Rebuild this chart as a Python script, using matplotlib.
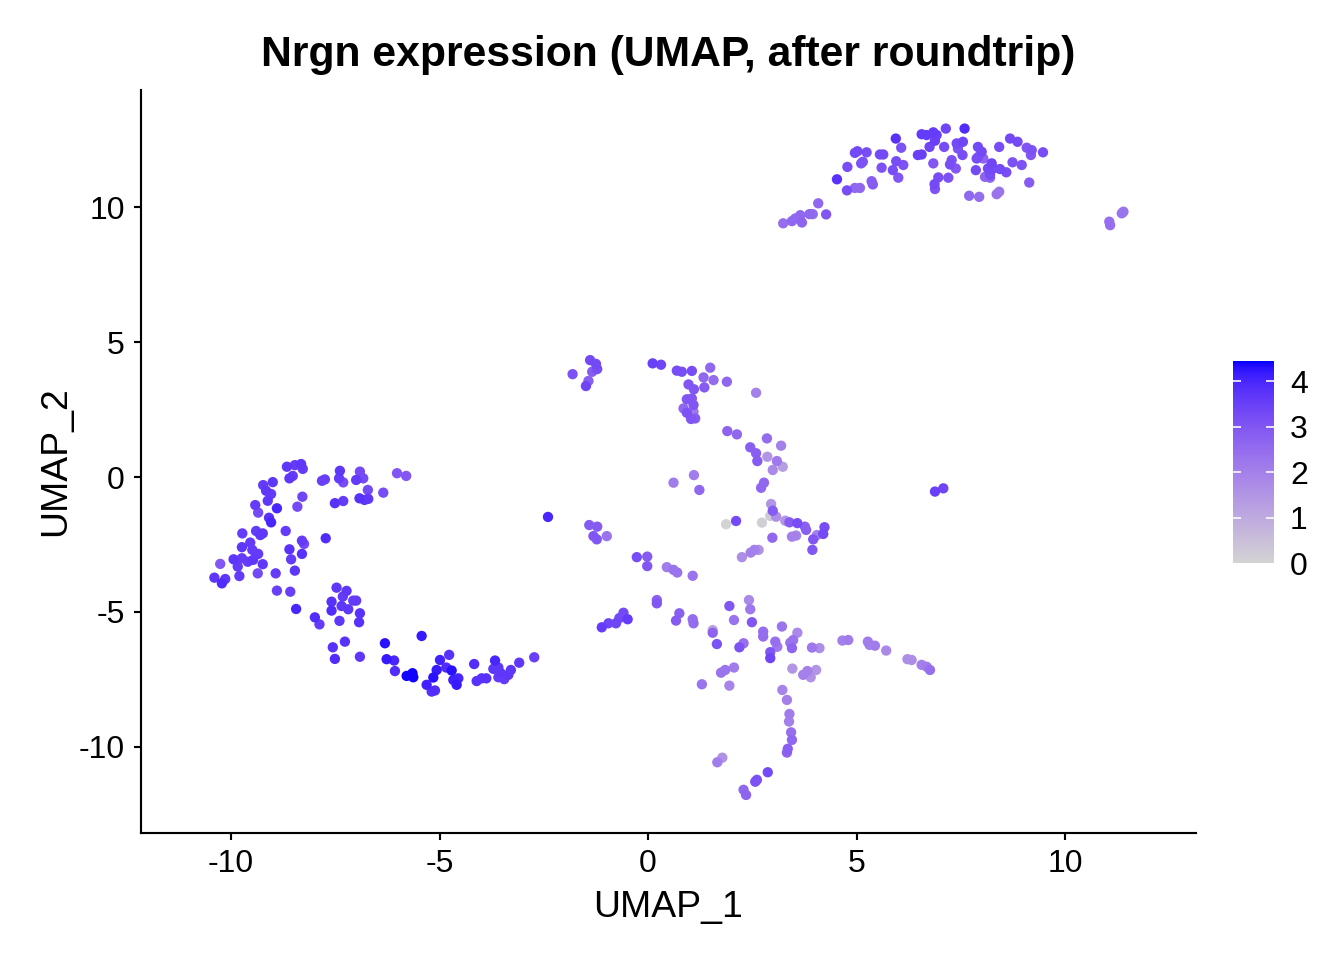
import numpy as np
import matplotlib.pyplot as plt
from matplotlib.colors import ListedColormap

plt.rcParams['font.family'] = ['Liberation Sans', 'DejaVu Sans']
plt.rcParams['axes.unicode_minus'] = False

# left arc (upper part + lower tail)
left_x = [-8.66, -8.47, -8.32, -8.28, -8.60, -8.52, -9.23, -9.00, -9.16, -9.04,
          -9.12, -9.42, -9.35, -8.90, -8.29, -8.41, -9.09, -9.04, -9.73, -9.40,
          -9.30, -9.24, -8.69, -9.54, -9.74, -9.49, -9.35, -9.94, -9.74, -9.60,
          -9.47, -9.84, -9.24, -10.26, -10.40, -10.22, -10.14, -9.80, -9.36, -8.93,
          -8.47, -8.30, -8.25, -8.60, -8.30, -8.56, -7.73, -8.90, -8.58, -8.44,
          -7.99, -7.88, -7.39, -7.41, -7.31, -7.82, -7.75, -6.91, -7.00, -6.83,
          -6.72, -7.51, -7.31, -6.92, -6.80, -6.71, -6.35, -6.02, -5.80,
          -7.47, -7.23, -7.32, -7.59, -7.35, -7.19, -7.07, -7.00, -7.59, -7.40,
          -6.91, -6.93, -7.56, -7.27, -7.51, -6.91,
          -6.31, -5.43, -6.27, -6.09, -6.07, -5.79, -5.65, -5.63, -5.31, -5.19,
          -5.11, -5.15, -5.07, -4.99, -4.84, -4.71, -4.77, -4.67, -4.55, -4.59,
          -4.17, -4.11, -3.99, -3.88, -3.67, -3.71, -3.59, -3.53, -3.59, -3.45,
          -3.35, -3.29, -3.09, -2.73, -2.40]
left_y = [0.38, 0.44, 0.48, 0.30, -0.05, 0.04, -0.30, -0.19, -0.51, -0.63,
          -0.88, -1.04, -1.32, -1.16, -0.73, -1.10, -1.51, -1.68, -2.09, -2.00,
          -2.15, -2.09, -2.00, -2.43, -2.60, -2.70, -2.85, -3.05, -3.01, -3.14,
          -3.07, -3.32, -3.23, -3.22, -3.73, -3.94, -3.78, -3.67, -3.57, -3.57,
          -3.47, -2.36, -2.48, -2.68, -2.85, -3.05, -2.27, -4.21, -4.25, -4.89,
          -5.20, -5.46, 0.23, -0.05, -0.20, -0.14, -0.09, 0.20, -0.11, -0.05,
          -0.48, -0.97, -0.89, -0.79, -0.85, -0.81, -0.58, 0.14, 0.04,
          -4.10, -4.22, -4.43, -4.62, -4.78, -4.90, -4.58, -4.58, -4.95, -5.33,
          -5.05, -5.38, -6.31, -6.10, -6.74, -6.66,
          -6.16, -5.89, -6.75, -6.80, -7.19, -7.37, -7.27, -7.42, -7.70, -7.95,
          -7.91, -7.43, -7.15, -6.78, -7.06, -7.17, -6.59, -7.52, -7.46, -7.70,
          -6.93, -7.56, -7.46, -7.46, -6.80, -7.11, -7.06, -7.27, -7.42, -7.49,
          -7.33, -7.15, -6.88, -6.68, -1.48]
left_expr = [3.7, 3.6, 3.7, 3.6, 3.7, 3.6, 3.6, 3.7, 3.7, 3.6,
             3.7, 3.6, 3.3, 4.0, 3.4, 3.3, 3.8, 4.0, 3.6, 3.6,
             3.7, 3.7, 3.6, 3.6, 3.7, 3.6, 3.6, 3.7, 3.6, 3.6,
             3.7, 3.6, 3.7, 3.0, 3.7, 3.9, 3.7, 3.6, 3.3, 3.6,
             3.7, 3.6, 3.3, 3.8, 3.8, 3.6, 3.9, 3.5, 3.5, 4.0,
             3.9, 3.6, 3.7, 3.6, 3.2, 3.5, 3.5, 3.3, 3.6, 3.3,
             3.3, 3.8, 3.6, 3.8, 3.7, 3.7, 3.2, 3.0, 3.0,
             3.7, 3.7, 3.6, 3.8, 3.7, 3.7, 3.6, 3.6, 3.9, 3.7,
             3.8, 3.8, 3.8, 3.8, 3.9, 3.7,
             4.3, 4.2, 4.2, 4.0, 3.9, 4.4, 4.4, 4.4, 4.1, 3.8,
             3.9, 4.3, 4.2, 4.1, 3.9, 4.3, 3.8, 4.1, 4.0, 4.2,
             3.9, 3.8, 3.8, 3.8, 4.0, 3.7, 3.7, 3.7, 3.6, 3.6,
             3.7, 3.7, 3.7, 3.5, 4.0]

# top right cluster
top_x = [3.24, 3.45, 3.53, 3.65, 3.69, 3.87, 3.95, 4.08, 4.27, 4.53,
         4.77, 4.78, 4.96, 5.02, 5.24, 5.15, 5.11, 4.96, 5.08, 5.36,
         5.39, 5.56, 5.64, 5.60, 5.87, 5.94, 6.07, 5.95, 6.12, 6.00,
         6.47, 6.56, 6.56, 6.68, 6.84, 6.92, 6.88, 6.75, 7.14, 7.10,
         6.84, 7.28, 7.24, 7.38, 7.20, 6.96, 6.87, 6.88, 7.59, 7.40,
         7.55, 7.43, 7.54, 7.91, 8.00, 7.92, 7.88, 8.04, 7.86, 8.15,
         8.24, 8.28, 8.20, 8.08, 8.20, 8.44, 8.59, 8.42, 7.70, 7.94,
         8.36, 8.42, 8.68, 8.86, 8.74, 8.96, 9.08, 9.20, 9.18, 9.47,
         9.14, 11.06, 11.08, 11.36, 11.40]
top_y = [9.40, 9.48, 9.58, 9.70, 9.43, 9.74, 9.74, 10.14, 9.73, 11.03,
         10.62, 11.49, 12.01, 12.07, 12.03, 11.68, 11.62, 10.71, 10.71, 10.96,
         10.84, 11.95, 11.95, 11.46, 11.37, 12.54, 12.20, 11.70, 11.56, 11.09,
         11.93, 11.95, 12.70, 12.67, 12.77, 12.67, 12.46, 12.23, 12.91, 12.23,
         11.62, 11.74, 11.58, 11.43, 11.09, 11.10, 10.85, 10.67, 12.91, 12.36,
         12.42, 12.17, 11.93, 12.23, 12.05, 11.86, 11.80, 11.80, 11.37, 11.43,
         11.62, 11.43, 11.19, 11.12, 11.09, 11.41, 11.29, 12.23, 10.42, 10.38,
         10.48, 10.57, 12.54, 12.42, 11.66, 11.56, 12.20, 12.11, 11.93, 12.03,
         10.91, 9.46, 9.33, 9.77, 9.83]
top_expr = [2.4, 2.6, 2.5, 2.6, 2.7, 2.6, 2.5, 2.6, 3.0, 3.8,
            3.2, 3.2, 3.3, 3.3, 3.2, 3.1, 3.1, 2.6, 2.6, 2.8,
            2.9, 3.3, 3.3, 3.1, 3.2, 3.8, 3.1, 3.2, 3.1, 3.0,
            3.5, 3.5, 3.6, 3.6, 3.6, 3.5, 3.5, 3.4, 3.4, 3.2,
            3.0, 3.1, 3.2, 3.0, 3.1, 3.2, 3.3, 3.1, 3.9, 3.3,
            3.4, 3.1, 3.2, 3.3, 3.3, 3.1, 3.2, 2.7, 3.3, 3.3,
            3.4, 3.3, 3.2, 2.7, 2.7, 3.3, 3.2, 3.2, 2.6, 2.5,
            2.3, 2.3, 3.3, 3.3, 3.1, 3.1, 3.0, 3.1, 3.0, 3.2,
            2.9, 2.4, 2.4, 2.3, 2.3]

# central / lower cluster
mid_x = [-1.81, -1.39, -1.25, -1.22, -1.34, -1.43, -1.49, 0.11, 0.31, 0.69,
         0.81, 1.05, 1.49, 1.33, 1.57, 1.35, 1.89, 0.97, 1.10, 0.93,
         1.05, 1.09, 0.85, 0.93, 1.09, 1.03, 1.13, 2.59, 1.90, 2.13,
         2.85, 2.45, 2.59, 2.62, 2.86, 3.19, 3.09, 2.99, 3.23, 0.61,
         1.10, 1.23, 2.78, 2.71,
         -1.41, -1.22, -1.31, -1.23, -0.99, -0.27, -0.02, -0.02, 0.45, 0.61,
         0.70, 1.07, 1.87, 2.11, 2.73, 2.95, 2.99, 2.93, 3.07, 3.29,
         3.39, 3.58, 3.76, 3.79, 4.05, 4.23, 4.20, 3.96, 3.94, 3.45,
         3.55, 2.98, 2.25, 2.46, 2.55, 2.65, 2.42, 0.21, 6.88, 7.08,
         -1.11, -0.95, -0.77, -0.69, -0.59, -0.49, 0.21, 0.75, 0.67, 1.07,
         1.09, 1.55, 1.55, 1.65, 1.95, 2.45, 2.06, 2.49, 2.76, 2.76,
         3.21, 3.58, 3.05, 3.10, 3.41, 3.48, 3.45, 2.19, 2.29, 2.93,
         2.93, 3.93, 4.11, 4.66, 4.80, 5.27, 5.31, 5.44, 5.71, 6.22,
         6.32, 6.56, 6.68, 6.76, 1.75, 1.85, 2.06, 1.29, 1.95, 3.46,
         3.72, 3.82, 3.90, 4.03, 3.22, 3.33, 3.39, 3.38, 3.43, 3.45,
         3.35, 3.33, 1.78, 1.66, 2.87, 2.61, 2.57, 2.29, 2.35]
mid_y = [3.81, 4.33, 4.19, 4.00, 3.90, 3.56, 3.37, 4.21, 4.16, 3.94,
         3.90, 3.93, 4.05, 3.69, 3.59, 3.32, 3.53, 3.43, 3.25, 2.88,
         2.91, 2.67, 2.54, 2.38, 2.42, 2.15, 2.17, 3.12, 1.70, 1.58,
         1.43, 1.10, 0.88, 0.59, 0.75, 1.16, 0.59, 0.26, 0.38, -0.21,
         0.07, -0.48, -0.21, -0.40,
         -1.78, -1.84, -2.19, -2.31, -2.19, -2.97, -2.95, -3.30, -3.34, -3.44,
         -3.54, -3.66, -1.75, -1.63, -1.69, -1.00, -1.25, -1.44, -1.47, -1.62,
         -1.68, -1.71, -1.84, -1.96, -2.15, -1.86, -2.11, -2.31, -2.70, -2.21,
         -2.17, -2.25, -2.97, -2.80, -2.70, -2.70, -4.56, -4.56, -0.54, -0.42,
         -5.57, -5.42, -5.42, -5.23, -5.03, -5.27, -4.68, -5.05, -5.32, -5.27,
         -5.42, -5.67, -5.77, -6.19, -4.78, -4.90, -5.30, -5.38, -5.73, -5.91,
         -5.54, -5.77, -6.10, -6.29, -6.14, -6.04, -6.34, -6.31, -6.16, -6.49,
         -6.71, -6.32, -6.34, -6.06, -6.04, -6.10, -6.22, -6.25, -6.43, -6.75,
         -6.78, -6.96, -7.03, -7.15, -7.25, -7.15, -7.06, -7.68, -7.73, -7.10,
         -7.33, -7.19, -7.42, -7.15, -7.89, -8.26, -8.78, -9.06, -9.46, -9.74,
         -10.07, -10.21, -10.40, -10.57, -10.94, -11.22, -11.29, -11.59, -11.78]
mid_expr = [3.1, 3.3, 3.3, 3.2, 2.9, 2.8, 3.4, 3.5, 3.4, 3.2,
            3.2, 3.2, 2.6, 2.6, 2.5, 2.9, 2.6, 3.0, 3.0, 3.0,
            3.0, 3.0, 2.6, 3.1, 2.2, 3.0, 2.9, 2.0, 2.7, 2.6,
            2.5, 2.8, 2.8, 2.9, 1.5, 2.0, 2.2, 1.8, 1.3, 2.1,
            2.1, 2.6, 2.6, 2.6,
            2.9, 2.9, 3.0, 3.0, 2.3, 3.2, 2.9, 3.0, 2.1, 2.3,
            2.3, 2.3, 0.0, 3.3, 0.1, 1.5, 2.9, 0.2, 1.7, 1.5,
            2.9, 3.2, 2.8, 2.8, 2.0, 3.2, 3.3, 3.0, 3.0, 2.0,
            1.9, 2.6, 1.7, 2.0, 2.0, 1.6, 1.8, 2.8, 3.5, 3.4,
            3.6, 3.4, 3.4, 3.3, 3.3, 3.6, 3.0, 2.8, 2.9, 2.5,
            2.5, 1.1, 2.7, 3.1, 3.0, 2.2, 2.3, 3.0, 2.5, 2.5,
            2.3, 1.8, 2.4, 2.2, 2.3, 2.3, 2.7, 3.1, 2.4, 3.0,
            3.4, 2.2, 1.7, 2.0, 2.1, 2.1, 2.0, 2.1, 1.8, 1.7,
            1.7, 2.0, 2.1, 2.4, 2.3, 2.3, 2.1, 2.3, 1.9, 1.5,
            2.0, 2.0, 1.6, 1.5, 1.9, 2.0, 2.1, 2.0, 2.4, 2.6,
            2.8, 2.7, 1.6, 2.1, 3.3, 3.1, 3.1, 2.6, 2.7]

umap1 = np.array(left_x + top_x + mid_x)
umap2 = np.array(left_y + top_y + mid_y)
expr = np.array(left_expr + top_expr + mid_expr)
order = np.argsort(expr)


# ggplot interpolates gradients in Lab space, which gives the purple middle
def srgb_to_lab(rgb):
    rgb = np.asarray(rgb, dtype=float)
    lin = np.where(rgb > 0.04045, ((rgb + 0.055) / 1.055) ** 2.4, rgb / 12.92)
    m = np.array([[0.4124, 0.3576, 0.1805],
                  [0.2126, 0.7152, 0.0722],
                  [0.0193, 0.1192, 0.9505]])
    xyz = m @ lin / np.array([0.95047, 1.0, 1.08883])
    f = np.where(xyz > 0.008856, np.cbrt(xyz), 7.787 * xyz + 16 / 116)
    return np.array([116 * f[1] - 16, 500 * (f[0] - f[1]), 200 * (f[1] - f[2])])


def lab_to_srgb(lab):
    fy = (lab[0] + 16) / 116
    fx = fy + lab[1] / 500
    fz = fy - lab[2] / 200
    f = np.array([fx, fy, fz])
    xyz = np.where(f ** 3 > 0.008856, f ** 3, (f - 16 / 116) / 7.787)
    xyz = xyz * np.array([0.95047, 1.0, 1.08883])
    minv = np.array([[3.2406, -1.5372, -0.4986],
                     [-0.9689, 1.8758, 0.0415],
                     [0.0557, -0.2040, 1.0570]])
    lin = minv @ xyz
    rgb = np.where(lin > 0.0031308, 1.055 * np.abs(lin) ** (1 / 2.4) - 0.055, 12.92 * lin)
    return np.clip(rgb, 0, 1)


lab_lo = srgb_to_lab([211 / 255, 211 / 255, 211 / 255])
lab_hi = srgb_to_lab([0, 0, 1])
steps = np.linspace(0, 1, 256)
cmap = ListedColormap([lab_to_srgb(lab_lo + t * (lab_hi - lab_lo)) for t in steps])

fig = plt.figure(figsize=(7, 5), dpi=192)
ax = fig.add_axes([0.1049, 0.1323, 0.7850, 0.7737])
sc = ax.scatter(umap1[order], umap2[order], c=expr[order], cmap=cmap,
                vmin=0, vmax=4.45, s=15, linewidths=0)

ax.set_xlim(-12.16, 13.14)
ax.set_ylim(-13.19, 14.33)
ax.set_xticks([-10, -5, 0, 5, 10])
ax.set_yticks([-10, -5, 0, 5, 10])
for side in ['top', 'right']:
    ax.spines[side].set_visible(False)
for side in ['left', 'bottom']:
    ax.spines[side].set_linewidth(0.8)
ax.tick_params(labelsize=12, width=0.8, length=2.6, color='black', labelcolor='black')
ax.set_xlabel('UMAP_1', fontsize=14)
ax.set_ylabel('UMAP_2', fontsize=14, labelpad=2)
ax.set_title('Nrgn expression (UMAP, after roundtrip)', fontsize=16,
             fontweight='bold', pad=9)

cax = fig.add_axes([0.9174, 0.4135, 0.0305, 0.2104])
cb = fig.colorbar(sc, cax=cax, ticks=[0, 1, 2, 3, 4])
cb.outline.set_visible(False)
cax.tick_params(length=0, labelsize=12, pad=6)
cax.hlines([1, 2, 3, 4], 0, 0.2, colors='white', linewidth=0.6)
cax.hlines([1, 2, 3, 4], 0.8, 1.0, colors='white', linewidth=0.6)

plt.savefig('out.png', dpi=192)
